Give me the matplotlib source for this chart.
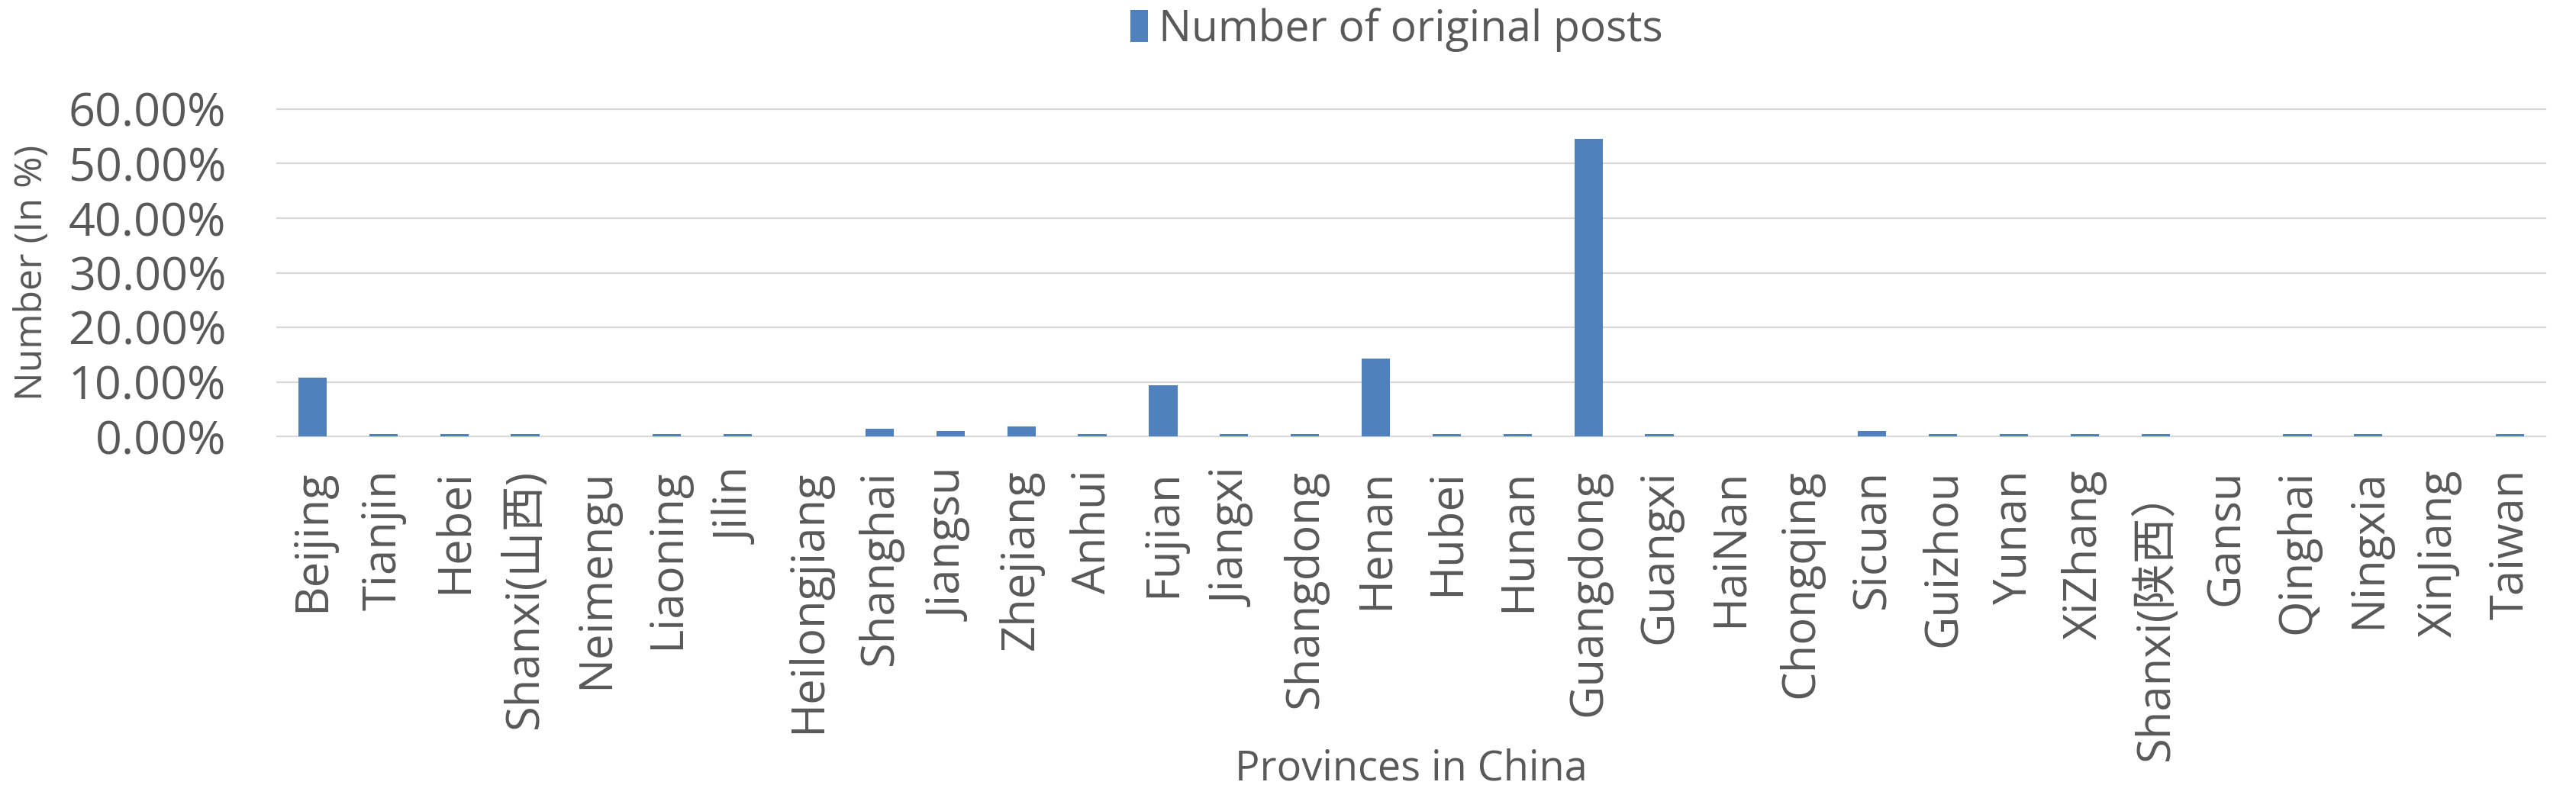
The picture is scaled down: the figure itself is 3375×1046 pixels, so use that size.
import matplotlib
matplotlib.use("Agg")
import matplotlib.pyplot as plt

plt.rcParams['font.family'] = ['Open Sans', 'Noto Sans CJK SC', 'DejaVu Sans']

provinces = ["Beijing", "Tianjin", "Hebei", "Shanxi(山西)", "Neimengu", "Liaoning", "Jilin",
             "Heilongjiang", "Shanghai", "Jiangsu", "Zhejiang", "Anhui", "Fujian", "Jiangxi",
             "Shangdong", "Henan", "Hubei", "Hunan", "Guangdong", "Guangxi", "HaiNan",
             "Chongqing", "Sicuan", "Guizhou", "Yunan", "XiZhang", "Shanxi(陕西）", "Gansu",
             "Qinghai", "Ningxia", "XinJiang", "Taiwan"]
values = [10.8, 0.46, 0.46, 0.46, 0.0, 0.46, 0.46,
          0.0, 1.39, 0.93, 1.85, 0.46, 9.4, 0.46,
          0.46, 14.2, 0.46, 0.46, 54.6, 0.46, 0.0,
          0.0, 0.93, 0.46, 0.46, 0.46, 0.46, 0.0,
          0.46, 0.46, 0.0, 0.46]
yticks = [0, 10, 20, 30, 40, 50, 60]
series_name = "Number of original posts"
xlabel = "Provinces in China"
ylabel = "Number (In %)"

TEXT = '#595959'
BAR = '#4F81BD'
GRID = '#D9D9D9'

W, H = 3375, 1046
fig = plt.figure(figsize=(W / 100, H / 100), dpi=100)
left, right, top, bottom = 363, 3335, 143, 572
ax = fig.add_axes([left / W, 1 - bottom / H, (right - left) / W, (bottom - top) / H])

x = list(range(len(provinces)))
bars = ax.bar(x, values, width=0.4, color=BAR, zorder=3, label=series_name)

ax.set_xlim(-0.5, len(provinces) - 0.5)
ax.set_ylim(0, 60)
ax.set_yticks(yticks)
ax.set_yticklabels([f"{v:.2f}%" for v in yticks])
ax.set_xticks(x)
ax.set_xticklabels(provinces, rotation=90)

ax.yaxis.grid(True, color=GRID, linewidth=1.6, zorder=0)
ax.xaxis.grid(False)
for gl in ax.get_ygridlines():
    gl.set_clip_on(False)
for s in ax.spines.values():
    s.set_visible(False)

ax.tick_params(axis='y', length=0, pad=48, labelsize=44, labelcolor=TEXT)
ax.tick_params(axis='x', length=0, pad=31, labelsize=43, labelcolor=TEXT)

fig.text(42 / W, 1 - 357 / H, ylabel, rotation=90, ha='center', va='center',
         fontsize=36, color=TEXT)
fig.text((left + right) / 2 / W, 1 - 1008 / H, xlabel, ha='center', va='center',
         fontsize=39, color=TEXT)

fig.legend(handles=[bars], labels=[series_name], loc='center',
           bbox_to_anchor=(1830 / W, 1 - 39 / H), frameon=False, fontsize=41,
           handlelength=0.4, handleheight=0.75, handletextpad=0.25,
           labelcolor=TEXT, borderpad=0)

fig.savefig("out.png", dpi=100, facecolor='white')
